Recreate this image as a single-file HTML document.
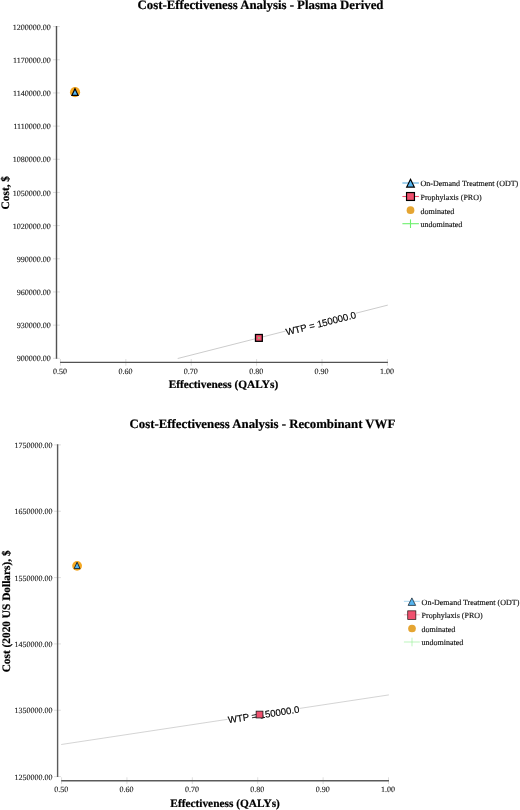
<!DOCTYPE html>
<html><head><meta charset="utf-8"><title>Cost-Effectiveness Analysis</title>
<style>
html,body{margin:0;padding:0;background:#fff;}
body{width:520px;height:810px;overflow:hidden;}
svg{display:block;will-change:transform;}
text{text-rendering:geometricPrecision;font-family:"Liberation Serif",serif;fill:#1a1a1a;}
.tl{font-size:8px;fill:#222;stroke:#222;stroke-width:0.12px;}
.lg{font-size:8px;fill:#111;stroke:#111;stroke-width:0.15px;}
.title{font-size:12.8px;font-weight:bold;fill:#000;stroke:#000;stroke-width:0.2px;}
.at{font-size:11.35px;font-weight:bold;fill:#000;stroke:#000;stroke-width:0.2px;}
.wtp{font-family:"Liberation Sans",sans-serif;font-size:9.6px;fill:#000;stroke:#000;stroke-width:0.15px;}
</style></head><body>
<svg width="520" height="810" viewBox="0 0 520 810">
<rect width="520" height="810" fill="#fff"/>
<g id="chart1">
<text x="260.5" y="9.2" text-anchor="middle" class="title">Cost-Effectiveness Analysis - Plasma Derived</text>
<line x1="53" y1="26.60" x2="59.8" y2="26.60" stroke="#d9d9d9" stroke-width="0.9"/>
<line x1="53" y1="59.77" x2="59.8" y2="59.77" stroke="#d9d9d9" stroke-width="0.9"/>
<line x1="53" y1="92.94" x2="59.8" y2="92.94" stroke="#d9d9d9" stroke-width="0.9"/>
<line x1="53" y1="126.11" x2="59.8" y2="126.11" stroke="#d9d9d9" stroke-width="0.9"/>
<line x1="53" y1="159.28" x2="59.8" y2="159.28" stroke="#d9d9d9" stroke-width="0.9"/>
<line x1="53" y1="192.45" x2="59.8" y2="192.45" stroke="#d9d9d9" stroke-width="0.9"/>
<line x1="53" y1="225.62" x2="59.8" y2="225.62" stroke="#d9d9d9" stroke-width="0.9"/>
<line x1="53" y1="258.79" x2="59.8" y2="258.79" stroke="#d9d9d9" stroke-width="0.9"/>
<line x1="53" y1="291.96" x2="59.8" y2="291.96" stroke="#d9d9d9" stroke-width="0.9"/>
<line x1="53" y1="325.13" x2="59.8" y2="325.13" stroke="#d9d9d9" stroke-width="0.9"/>
<line x1="53" y1="358.30" x2="59.8" y2="358.30" stroke="#d9d9d9" stroke-width="0.9"/>
<line x1="60.45" y1="359" x2="60.45" y2="365.8" stroke="#d9d9d9" stroke-width="0.9"/>
<line x1="125.84" y1="359" x2="125.84" y2="365.8" stroke="#d9d9d9" stroke-width="0.9"/>
<line x1="191.23" y1="359" x2="191.23" y2="365.8" stroke="#d9d9d9" stroke-width="0.9"/>
<line x1="256.62" y1="359" x2="256.62" y2="365.8" stroke="#d9d9d9" stroke-width="0.9"/>
<line x1="322.01" y1="359" x2="322.01" y2="365.8" stroke="#d9d9d9" stroke-width="0.9"/>
<line x1="387.40" y1="359" x2="387.40" y2="365.8" stroke="#d9d9d9" stroke-width="0.9"/>
<line x1="56.5" y1="26" x2="56.5" y2="358.7" stroke="#525252" stroke-width="1.4"/>
<line x1="60.1" y1="362.4" x2="387.9" y2="362.4" stroke="#525252" stroke-width="1.4"/>
<text x="50.8" y="29.65" text-anchor="end" class="tl">1200000.00</text>
<text x="50.8" y="62.82" text-anchor="end" class="tl">1170000.00</text>
<text x="50.8" y="95.99" text-anchor="end" class="tl">1140000.00</text>
<text x="50.8" y="129.16" text-anchor="end" class="tl">1110000.00</text>
<text x="50.8" y="162.33" text-anchor="end" class="tl">1080000.00</text>
<text x="50.8" y="195.50" text-anchor="end" class="tl">1050000.00</text>
<text x="50.8" y="228.67" text-anchor="end" class="tl">1020000.00</text>
<text x="50.8" y="261.84" text-anchor="end" class="tl">990000.00</text>
<text x="50.8" y="295.01" text-anchor="end" class="tl">960000.00</text>
<text x="50.8" y="328.18" text-anchor="end" class="tl">930000.00</text>
<text x="50.8" y="361.35" text-anchor="end" class="tl">900000.00</text>
<text x="60.05" y="373.9" text-anchor="middle" class="tl">0.50</text>
<text x="125.44" y="373.9" text-anchor="middle" class="tl">0.60</text>
<text x="190.83" y="373.9" text-anchor="middle" class="tl">0.70</text>
<text x="256.22" y="373.9" text-anchor="middle" class="tl">0.80</text>
<text x="321.61" y="373.9" text-anchor="middle" class="tl">0.90</text>
<text x="387.00" y="373.9" text-anchor="middle" class="tl">1.00</text>
<text x="223.4" y="388" text-anchor="middle" class="at">Effectiveness (QALYs)</text>
<text transform="translate(9.3,192.7) rotate(-90)" text-anchor="middle" class="at">Cost, $</text>
<line x1="177.7" y1="358.5" x2="387.8" y2="305.1" stroke="#cccccc" stroke-width="1"/>
<g transform="translate(320.6,322.18) rotate(-14.26)"><rect x="-36.5" y="-4" width="73" height="10" fill="#fff"/><text x="0" y="4.7" text-anchor="middle" class="wtp">WTP = 150000.0</text></g>
<circle cx="75.05" cy="92.15" r="5.1" fill="#f5a823"/><path d="M75.0,88.7 L78.1,95.3 L71.9,95.3 Z" fill="#55b4ee" stroke="#000" stroke-width="1.15" stroke-linejoin="miter"/>
<rect x="255.50" y="334.50" width="6.8" height="6.8" fill="#f0506e" stroke="#000" stroke-width="1.3"/><circle cx="258.9" cy="337.9" r="0.9" fill="#7bd67b"/>
<line x1="402.4" y1="183" x2="418.9" y2="183" stroke="#5aaee0" stroke-width="1.1"/>
<path d="M410.5,179.35 L414.3,187.05 L406.7,187.05 Z" fill="#55b4ee" stroke="#000" stroke-width="1.2" stroke-linejoin="miter"/>
<line x1="402.4" y1="196.5" x2="418.9" y2="196.5" stroke="#f0506e" stroke-width="1.1"/>
<rect x="406.55" y="192.55" width="7.9" height="7.9" fill="#f0506e" stroke="#000" stroke-width="1.2"/>
<circle cx="410.5" cy="210.2" r="3.85" fill="#e5a532"/>
<line x1="402.4" y1="223.7" x2="418.9" y2="223.7" stroke="#6cf06c" stroke-width="1.1"/>
<line x1="410.5" y1="219.39999999999998" x2="410.5" y2="228.0" stroke="#6cf06c" stroke-width="1.1"/>
<text x="420.5" y="186.30" class="lg">On-Demand Treatment (ODT)</text>
<text x="420.5" y="199.80" class="lg">Prophylaxis (PRO)</text>
<text x="420.5" y="213.50" class="lg">dominated</text>
<text x="420.5" y="227.00" class="lg">undominated</text>
</g>
<g id="chart2" transform="translate(1.1,418.3)">
<text x="261.29999999999995" y="9.5" text-anchor="middle" class="title">Cost-Effectiveness Analysis - Recombinant VWF</text>
<line x1="53" y1="26.60" x2="59.8" y2="26.60" stroke="#d9d9d9" stroke-width="0.9"/>
<line x1="53" y1="92.94" x2="59.8" y2="92.94" stroke="#d9d9d9" stroke-width="0.9"/>
<line x1="53" y1="159.28" x2="59.8" y2="159.28" stroke="#d9d9d9" stroke-width="0.9"/>
<line x1="53" y1="225.62" x2="59.8" y2="225.62" stroke="#d9d9d9" stroke-width="0.9"/>
<line x1="53" y1="291.96" x2="59.8" y2="291.96" stroke="#d9d9d9" stroke-width="0.9"/>
<line x1="53" y1="358.30" x2="59.8" y2="358.30" stroke="#d9d9d9" stroke-width="0.9"/>
<line x1="60.45" y1="359" x2="60.45" y2="365.8" stroke="#d9d9d9" stroke-width="0.9"/>
<line x1="125.84" y1="359" x2="125.84" y2="365.8" stroke="#d9d9d9" stroke-width="0.9"/>
<line x1="191.23" y1="359" x2="191.23" y2="365.8" stroke="#d9d9d9" stroke-width="0.9"/>
<line x1="256.62" y1="359" x2="256.62" y2="365.8" stroke="#d9d9d9" stroke-width="0.9"/>
<line x1="322.01" y1="359" x2="322.01" y2="365.8" stroke="#d9d9d9" stroke-width="0.9"/>
<line x1="387.40" y1="359" x2="387.40" y2="365.8" stroke="#d9d9d9" stroke-width="0.9"/>
<line x1="56.5" y1="26" x2="56.5" y2="358.7" stroke="#5a5a5a" stroke-width="1.4"/>
<line x1="60.1" y1="362.4" x2="387.9" y2="362.4" stroke="#5a5a5a" stroke-width="1.4"/>
<text x="51.4" y="29.65" text-anchor="end" class="tl">1750000.00</text>
<text x="51.4" y="95.99" text-anchor="end" class="tl">1650000.00</text>
<text x="51.4" y="162.33" text-anchor="end" class="tl">1550000.00</text>
<text x="51.4" y="228.67" text-anchor="end" class="tl">1450000.00</text>
<text x="51.4" y="295.01" text-anchor="end" class="tl">1350000.00</text>
<text x="51.4" y="361.35" text-anchor="end" class="tl">1250000.00</text>
<text x="60.05" y="373.9" text-anchor="middle" class="tl">0.50</text>
<text x="125.44" y="373.9" text-anchor="middle" class="tl">0.60</text>
<text x="190.83" y="373.9" text-anchor="middle" class="tl">0.70</text>
<text x="256.22" y="373.9" text-anchor="middle" class="tl">0.80</text>
<text x="321.61" y="373.9" text-anchor="middle" class="tl">0.90</text>
<text x="387.00" y="373.9" text-anchor="middle" class="tl">1.00</text>
<text x="224.0" y="388.5" text-anchor="middle" class="at">Effectiveness (QALYs)</text>
<text transform="translate(8.9,193.1) rotate(-90)" text-anchor="middle" class="at">Cost (2020 US Dollars), $</text>
<line x1="60.1" y1="326.2" x2="387.8" y2="276.6" stroke="#c2c2c2" stroke-width="0.7"/>
<g transform="translate(262.4,295.58) rotate(-8.61)"><rect x="-36.5" y="-4" width="73" height="10" fill="#fff"/><text x="0" y="4.1" text-anchor="middle" class="wtp">WTP = 150000.0</text></g>
<rect x="255.05" y="292.85" width="6.8" height="6.8" fill="#f0506e" stroke="#1a1a1a" stroke-width="0.8"/>
<circle cx="76.0" cy="147.55" r="4.9" fill="#f5a823"/><path d="M76.0,143.90000000000003 L78.95,150.3 L73.05,150.3 Z" fill="#55b4ee" stroke="#0a1520" stroke-width="0.85" stroke-linejoin="miter"/>
<line x1="402.8" y1="183" x2="418.75" y2="183" stroke="#6fb8e6" stroke-width="0.6"/>
<path d="M410.8,179.6 L414.56,187.1 L407.04,187.1 Z" fill="#55b4ee" stroke="#0a1520" stroke-width="0.7" stroke-linejoin="miter"/>
<line x1="402.8" y1="196.5" x2="418.75" y2="196.5" stroke="#f28a9c" stroke-width="0.6"/>
<rect x="406.65" y="192.55" width="8.1" height="8.5" fill="#f0506e" stroke="#1a0a0a" stroke-width="0.7"/>
<circle cx="410.9" cy="210.2" r="3.85" fill="#e5a532"/>
<line x1="402.8" y1="223.7" x2="418.75" y2="223.7" stroke="#90f090" stroke-width="0.6"/>
<line x1="410.9" y1="219.39999999999998" x2="410.9" y2="228.0" stroke="#90f090" stroke-width="0.6"/>
<text x="420.5" y="186.30" class="lg">On-Demand Treatment (ODT)</text>
<text x="420.5" y="199.80" class="lg">Prophylaxis (PRO)</text>
<text x="420.5" y="213.50" class="lg">dominated</text>
<text x="420.5" y="227.00" class="lg">undominated</text>
</g>
</svg>
</body></html>
